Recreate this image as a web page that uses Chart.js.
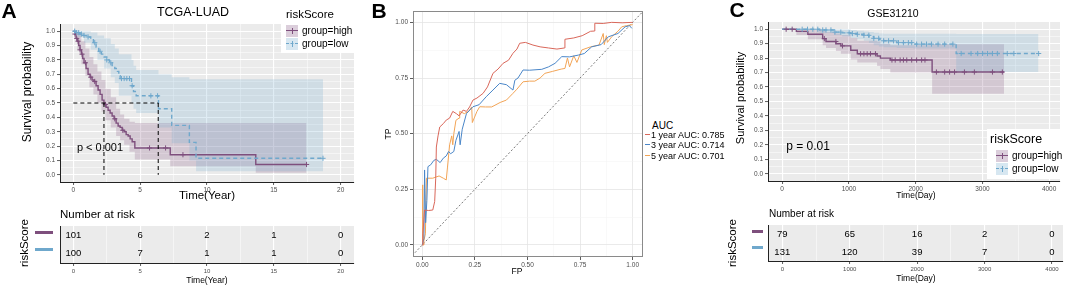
<!DOCTYPE html>
<html lang="en">
<head>
<meta charset="UTF-8">
<title>riskScore survival and ROC</title>
<script src="https://cdn.jsdelivr.net/npm/chart.js@4.4.1/dist/chart.umd.min.js"></script>
<style>
  body { margin: 0; background: #fff; }
  #fig { position: relative; width: 1065px; height: 286px; overflow: hidden;
         font-family: "Liberation Sans", Arial, Helvetica, sans-serif; color: #000; }
  canvas { position: absolute; }
  .t { position: absolute; white-space: nowrap; line-height: 1; transform: translate(-50%, -50%); }
  .l { position: absolute; white-space: nowrap; line-height: 1; transform: translate(0, -50%); }
  .rot { transform: translate(-50%, -50%) rotate(-90deg); }
  .tag { font-weight: bold; font-size: 21px; }
  .box { position: absolute; background: #fff; }
  .key { position: absolute; width: 12px; height: 12px; }
  .key .ln { position: absolute; left: 0; right: 0; top: 5px; border-top-width: 1.3px; }
  .key .vt { position: absolute; left: 5.5px; top: 3px; height: 6px; border-left-width: 1px; border-left-style: solid; }
  .sw { position: absolute; height: 3px; }
</style>
</head>
<body>
<div id="fig">
  <canvas id="kmA" width="360" height="200" style="left:0;top:0"></canvas>
  <canvas id="riskA" width="360" height="86" style="left:0;top:200px"></canvas>
  <canvas id="roc" width="290" height="286" style="left:360px;top:0"></canvas>
  <canvas id="kmC" width="340" height="200" style="left:725px;top:0"></canvas>
  <canvas id="riskC" width="340" height="86" style="left:725px;top:200px"></canvas>

  <!-- panel A text -->
  <div class="t tag" style="left:9px;top:10px">A</div>
  <div class="t" style="left:193px;top:12px;font-size:12.5px">TCGA-LUAD</div>
  <div class="t rot" style="left:27px;top:92px;font-size:12px">Survival probability</div>
  <div class="t" style="left:207px;top:196px;font-size:11.5px">Time(Year)</div>
  <div class="t" style="left:100px;top:147px;font-size:11px">p &lt; 0.001</div>
  <div class="box" style="left:281px;top:24px;width:74px;height:29px"></div>
  <div class="l" style="left:286px;top:15px;font-size:11.5px">riskScore</div>
  <div class="key" style="left:286px;top:25px;background:rgba(126,79,125,0.28)">
    <div class="ln" style="border-top-style:solid;border-top-color:#7E4F7D"></div>
    <div class="vt" style="border-left-color:#7E4F7D"></div>
  </div>
  <div class="key" style="left:286px;top:38px;background:rgba(111,168,204,0.28)">
    <div class="ln" style="border-top-style:dashed;border-top-color:#6FA8CC"></div>
    <div class="vt" style="border-left-color:#6FA8CC"></div>
  </div>
  <div class="l" style="left:302px;top:31px;font-size:10px">group=high</div>
  <div class="l" style="left:302px;top:44px;font-size:10px">group=low</div>
  <div class="l" style="left:60px;top:215px;font-size:11.5px">Number at risk</div>
  <div class="t rot" style="left:25px;top:243px;font-size:11.5px">riskScore</div>
  <div class="sw" style="left:35px;top:231px;width:18px;background:#7E4F7D"></div>
  <div class="sw" style="left:35px;top:248px;width:18px;background:#6FA8CC"></div>
  <div class="t" style="left:207px;top:280px;font-size:8.5px">Time(Year)</div>

  <!-- panel B text -->
  <div class="t tag" style="left:379px;top:10px">B</div>
  <div class="t" style="left:517px;top:271px;font-size:8.5px">FP</div>
  <div class="t rot" style="left:388px;top:134px;font-size:8.5px">TP</div>
  <div class="l" style="left:652px;top:126px;font-size:10px">AUC</div>
  <div class="sw" style="left:645px;top:134px;width:5px;height:1px;background:#D9675A"></div>
  <div class="sw" style="left:645px;top:144px;width:5px;height:1px;background:#4A86C8"></div>
  <div class="sw" style="left:645px;top:155px;width:5px;height:1px;background:#F2A456"></div>
  <div class="l" style="left:651px;top:134.5px;font-size:9px">1 year AUC: 0.785</div>
  <div class="l" style="left:651px;top:144.5px;font-size:9px">3 year AUC: 0.714</div>
  <div class="l" style="left:651px;top:155.5px;font-size:9px">5 year AUC: 0.701</div>

  <!-- panel C text -->
  <div class="t tag" style="left:737px;top:9px">C</div>
  <div class="t" style="left:893px;top:13px;font-size:10.5px">GSE31210</div>
  <div class="t rot" style="left:740px;top:98px;font-size:11px">Survival probability</div>
  <div class="t" style="left:916px;top:195px;font-size:8.5px">Time(Day)</div>
  <div class="t" style="left:808px;top:146px;font-size:12px">p = 0.01</div>
  <div class="box" style="left:987px;top:129px;width:78px;height:50px"></div>
  <div class="l" style="left:990px;top:139px;font-size:12.5px">riskScore</div>
  <div class="key" style="left:996px;top:150px;background:rgba(126,79,125,0.28)">
    <div class="ln" style="border-top-style:solid;border-top-color:#7E4F7D"></div>
    <div class="vt" style="border-left-color:#7E4F7D"></div>
  </div>
  <div class="key" style="left:996px;top:163px;background:rgba(111,168,204,0.28)">
    <div class="ln" style="border-top-style:dashed;border-top-color:#6FA8CC"></div>
    <div class="vt" style="border-left-color:#6FA8CC"></div>
  </div>
  <div class="l" style="left:1012px;top:156px;font-size:10px">group=high</div>
  <div class="l" style="left:1012px;top:169px;font-size:10px">group=low</div>
  <div class="l" style="left:769px;top:214px;font-size:10px">Number at risk</div>
  <div class="t rot" style="left:733px;top:243px;font-size:11.5px">riskScore</div>
  <div class="sw" style="left:752px;top:230px;width:11px;background:#7E4F7D"></div>
  <div class="sw" style="left:752px;top:246px;width:11px;background:#6FA8CC"></div>
  <div class="t" style="left:916px;top:278px;font-size:8.5px">Time(Day)</div>
</div>

<script>
// ---- data ----

// A: TCGA-LUAD, time in years
const yearTicks = [0, 5, 10, 15, 20];
const yearLabels = ['0', '5', '10', '15', '20'];
const survTicks = [0, 0.1, 0.2, 0.3, 0.4, 0.5, 0.6, 0.7, 0.8, 0.9, 1.0];
const survLabels = ['0.0', '0.1', '0.2', '0.3', '0.4', '0.5', '0.6', '0.7', '0.8', '0.9', '1.0'];

const highTimeA = [0, 0.1, 0.2, 0.3, 0.4, 0.5, 0.6, 0.7, 0.8, 0.95, 1.1, 1.25, 1.4, 1.55, 1.7, 1.85, 2.0, 2.15, 2.29, 2.45, 2.6, 2.75, 2.9, 3.05, 3.2, 3.35, 3.5, 3.65, 3.8, 3.95, 4.1, 4.25, 4.4, 4.6, 7.25, 13.65, 17.45];
const highSurvA = [1, 0.98, 0.95, 0.93, 0.9, 0.87, 0.84, 0.81, 0.78, 0.74, 0.7, 0.68, 0.66, 0.65, 0.62, 0.59, 0.56, 0.52, 0.49, 0.47, 0.45, 0.43, 0.41, 0.39, 0.36, 0.34, 0.33, 0.31, 0.3, 0.28, 0.27, 0.25, 0.23, 0.187, 0.14, 0.072, 0.072];
const lowTimeA = [0, 0.2, 0.45, 0.7, 1.0, 1.3, 1.5, 1.7, 1.9, 2.1, 2.3, 2.5, 2.7, 2.9, 3.1, 3.3, 3.4, 3.5, 4.35, 4.5, 4.7, 6.37, 7.36, 8.68, 9.18, 18.68];
const lowSurvA = [1, 0.99, 0.98, 0.97, 0.96, 0.94, 0.92, 0.89, 0.86, 0.84, 0.82, 0.8, 0.78, 0.76, 0.74, 0.72, 0.69, 0.67, 0.62, 0.58, 0.55, 0.46, 0.344, 0.226, 0.115, 0.115];
const highCensorA = [0.12, 0.25, 0.35, 0.5, 0.65, 0.9, 1.3, 1.6, 2.4, 3.1, 3.7, 5.7, 6.9, 8.2, 17.45];
const lowCensorA = [0.1, 0.25, 0.4, 0.6, 0.8, 1.1, 1.6, 2.0, 2.5, 2.8, 3.6, 3.8, 4.0, 4.2, 4.4, 5.8, 6.3, 18.68];

const highBandTimeA = [0, 0.3, 0.6, 0.9, 1.2, 1.5, 1.8, 2.1, 2.4, 2.8, 3.2, 3.5, 3.8, 4.2, 4.6, 7.25, 13.65, 17.45];
const highBandLowA = [1, 0.87, 0.77, 0.69, 0.61, 0.56, 0.5, 0.44, 0.38, 0.33, 0.27, 0.24, 0.21, 0.16, 0.107, 0.06, 0.014, 0.014];
const highBandUpA = [1, 0.99, 0.93, 0.88, 0.82, 0.77, 0.72, 0.66, 0.6, 0.54, 0.46, 0.42, 0.39, 0.37, 0.36, 0.36, 0.36, 0.36];
const lowBandTimeA = [0, 0.3, 0.8, 1.3, 1.8, 2.3, 2.8, 3.1, 3.4, 4.35, 4.5, 4.7, 6.37, 7.36, 8.68, 9.18, 18.68];
const lowBandLowA = [1, 0.96, 0.92, 0.87, 0.8, 0.74, 0.68, 0.64, 0.55, 0.5, 0.46, 0.43, 0.33, 0.22, 0.1, 0.025, 0.025];
const lowBandUpA = [1, 1, 1, 0.99, 0.97, 0.95, 0.91, 0.88, 0.84, 0.8, 0.76, 0.73, 0.7, 0.68, 0.665, 0.665, 0.665];

const medianLevelA = 0.5;
const medianTimesA = [2.29, 6.35];

const riskTimesA = [0, 5, 10, 15, 20];
const riskHighA = [101, 6, 2, 1, 0];
const riskLowA = [100, 7, 1, 1, 0];

// B: time-dependent ROC
const rocTicks = [0, 0.25, 0.5, 0.75, 1];
const rocLabels = ['0.00', '0.25', '0.50', '0.75', '1.00'];
const fp1 = [0, 0.003, 0.011, 0.03, 0.05, 0.059, 0.064, 0.067, 0.075, 0.083, 0.1, 0.114, 0.13, 0.145, 0.162, 0.175, 0.194, 0.21, 0.225, 0.241, 0.26, 0.289, 0.31, 0.336, 0.36, 0.384, 0.41, 0.431, 0.45, 0.463, 0.49, 0.526, 0.56, 0.6, 0.64, 0.676, 0.678, 0.72, 0.76, 0.8, 0.818, 0.82, 0.86, 0.9, 0.95, 1];
const tp1 = [0, 0.05, 0.157, 0.155, 0.157, 0.195, 0.3, 0.44, 0.49, 0.53, 0.545, 0.561, 0.57, 0.6, 0.59, 0.58, 0.606, 0.6, 0.62, 0.651, 0.66, 0.681, 0.71, 0.771, 0.79, 0.816, 0.83, 0.861, 0.88, 0.906, 0.91, 0.898, 0.89, 0.885, 0.88, 0.885, 0.924, 0.93, 0.94, 0.96, 0.961, 0.996, 0.995, 1, 0.998, 1];
const fp3 = [0, 0.008, 0.011, 0.016, 0.022, 0.027, 0.04, 0.055, 0.067, 0.085, 0.1, 0.114, 0.125, 0.135, 0.15, 0.16, 0.175, 0.18, 0.19, 0.21, 0.241, 0.27, 0.304, 0.336, 0.368, 0.4, 0.431, 0.44, 0.455, 0.479, 0.51, 0.568, 0.6, 0.631, 0.663, 0.7, 0.742, 0.77, 0.805, 0.85, 0.884, 0.93, 0.964, 0.985, 0.996];
const tp3 = [0, 0.03, 0.337, 0.1, 0.2, 0.352, 0.36, 0.38, 0.385, 0.37, 0.39, 0.4, 0.42, 0.41, 0.42, 0.47, 0.51, 0.45, 0.52, 0.59, 0.621, 0.63, 0.666, 0.696, 0.726, 0.72, 0.696, 0.74, 0.75, 0.786, 0.785, 0.789, 0.8, 0.816, 0.846, 0.845, 0.853, 0.86, 0.89, 0.9, 0.935, 0.95, 0.98, 0.985, 0.973];
const fp5 = [0, 0.002, 0.004, 0.008, 0.015, 0.02, 0.05, 0.08, 0.1, 0.114, 0.12, 0.13, 0.14, 0.145, 0.15, 0.16, 0.175, 0.178, 0.2, 0.22, 0.235, 0.238, 0.26, 0.273, 0.3, 0.33, 0.37, 0.4, 0.431, 0.45, 0.479, 0.51, 0.535, 0.56, 0.583, 0.62, 0.66, 0.678, 0.69, 0.7, 0.72, 0.735, 0.758, 0.8, 0.84, 0.86, 0.865, 0.875, 0.88, 0.9, 0.93, 0.948, 0.97, 1];
const tp5 = [0, 0.27, 0.0, 0.02, 0.05, 0.3, 0.3, 0.31, 0.3, 0.292, 0.35, 0.45, 0.49, 0.45, 0.5, 0.56, 0.57, 0.6, 0.59, 0.6, 0.62, 0.55, 0.6, 0.621, 0.62, 0.62, 0.64, 0.651, 0.681, 0.7, 0.733, 0.736, 0.736, 0.75, 0.771, 0.78, 0.79, 0.793, 0.84, 0.8, 0.85, 0.82, 0.876, 0.89, 0.898, 0.95, 0.9, 0.94, 0.91, 0.935, 0.96, 0.98, 0.985, 0.99];

// C: GSE31210, time in days
const dayTicks = [0, 1000, 2000, 3000, 4000];
const dayLabels = ['0', '1000', '2000', '3000', '4000'];

const highTimeC = [0, 213, 385, 607, 657, 806, 880, 1028, 1126, 1422, 1472, 1620, 2247, 3324];
const highSurvC = [1, 0.985, 0.965, 0.935, 0.915, 0.9, 0.885, 0.855, 0.83, 0.815, 0.8, 0.787, 0.704, 0.704];
const lowTimeC = [0, 560, 780, 900, 1028, 1120, 1225, 1300, 1373, 1450, 1521, 1718, 1966, 2607, 3840];
const lowSurvC = [1, 0.995, 0.98, 0.975, 0.97, 0.965, 0.958, 0.948, 0.937, 0.928, 0.92, 0.907, 0.897, 0.832, 0.832];
const highCensorC = [60, 150, 632, 805, 904, 1175, 1225, 1274, 1323, 1398, 1645, 1694, 1768, 1817, 1867, 1941, 2015, 2090, 2140, 2311, 2435, 2509, 2583, 2731, 2880, 3151, 3299];
const lowCensorC = [300, 380, 460, 534, 608, 657, 731, 790, 879, 1003, 1052, 1126, 1225, 1299, 1373, 1447, 1521, 1595, 1669, 1743, 1817, 1891, 1941, 2015, 2089, 2163, 2237, 2336, 2435, 2558, 2682, 2830, 2929, 3003, 3077, 3151, 3225, 3373, 3472, 3843];

const highBandTimeC = [0, 213, 385, 607, 657, 806, 880, 1028, 1126, 1422, 1472, 1620, 2247, 3324];
const highBandLowC = [1, 0.96, 0.93, 0.89, 0.87, 0.85, 0.83, 0.79, 0.77, 0.745, 0.725, 0.7, 0.554, 0.554];
const highBandUpC = [1, 1, 1, 0.99, 0.98, 0.97, 0.96, 0.94, 0.92, 0.915, 0.9, 0.89, 0.896, 0.896];
const lowBandTimeC = [0, 560, 780, 900, 1028, 1120, 1225, 1300, 1373, 1450, 1521, 1718, 1966, 2607, 3840];
const lowBandLowC = [1, 0.975, 0.96, 0.95, 0.94, 0.93, 0.92, 0.905, 0.89, 0.88, 0.875, 0.87, 0.866, 0.704, 0.704];
const lowBandUpC = [1, 1, 1, 1, 0.995, 0.99, 0.985, 0.98, 0.975, 0.97, 0.968, 0.968, 0.968, 0.967, 0.967];

const riskTimesC = [0, 1000, 2000, 3000, 4000];
const riskHighC = [79, 65, 16, 2, 0];
const riskLowC = [131, 120, 39, 7, 0];

// ---- drawing ----
const FONT = '"Liberation Sans", Arial, Helvetica, sans-serif';
const HIGH = '#7E4F7D', LOW = '#6FA8CC';
const HIGH_BAND = 'rgba(126,79,125,0.22)', LOW_BAND = 'rgba(111,168,204,0.22)';
const NONE = 'rgba(0,0,0,0)';

Chart.defaults.font.family = FONT;

function xy(xs, ys) { return xs.map((x, i) => ({ x: x, y: ys[i] })); }

function survAt(times, surv, t) {
  let s = surv[0];
  for (let i = 0; i < times.length; i++) if (times[i] <= t) s = surv[i];
  return s;
}

function minorsOf(m) {
  const out = [];
  for (let i = 0; i < m.length - 1; i++) out.push((m[i] + m[i + 1]) / 2);
  return out;
}

// panel background / frame
const panel = {
  id: 'panel',
  beforeDraw(chart, args, opts) {
    if (!opts.fill) return;
    const a = chart.chartArea, ctx = chart.ctx;
    ctx.save();
    ctx.fillStyle = opts.fill;
    ctx.fillRect(a.left, a.top, a.right - a.left, a.bottom - a.top);
    ctx.restore();
  },
  afterDraw(chart, args, opts) {
    if (!opts.stroke) return;
    const a = chart.chartArea, ctx = chart.ctx;
    ctx.save();
    ctx.strokeStyle = opts.stroke;
    ctx.lineWidth = 1;
    ctx.strokeRect(Math.round(a.left) + 0.5, Math.round(a.top) + 0.5,
      Math.round(a.right - a.left) - 1, Math.round(a.bottom - a.top) - 1);
    ctx.restore();
  }
};

// numbers at risk written at their (time, row) positions
const riskText = {
  id: 'riskText',
  afterDatasetsDraw(chart) {
    const ctx = chart.ctx, xs = chart.scales.x, ys = chart.scales.y;
    ctx.save();
    ctx.font = '9.5px ' + FONT;
    ctx.fillStyle = '#000';
    ctx.textAlign = 'center';
    ctx.textBaseline = 'middle';
    chart.data.datasets.forEach(ds => ds.data.forEach(p => {
      ctx.fillText(String(p.n), xs.getPixelForValue(p.x), ys.getPixelForValue(p.y));
    }));
    ctx.restore();
  }
};

function numAxis(o) {
  const minors = minorsOf(o.majors);
  const all = o.majors.concat(minors).filter(v => v >= o.min && v <= o.max).sort((a, b) => a - b);
  const isMajor = v => o.majors.some(m => Math.abs(m - v) < 1e-9);
  return {
    type: 'linear', min: o.min, max: o.max,
    afterBuildTicks: s => { s.ticks = all.map(v => ({ value: v })); },
    afterFit: s => { if (s.isHorizontal()) s.height = o.size; else s.width = o.size; },
    ticks: {
      autoSkip: false, maxRotation: 0, minRotation: 0, padding: o.pad,
      color: '#4D4D4D', font: { family: FONT, size: o.font },
      callback: v => {
        const i = o.majors.findIndex(m => Math.abs(m - v) < 1e-9);
        return i < 0 ? '' : o.labels[i];
      }
    },
    grid: {
      drawOnChartArea: true,
      color: c => (c.tick && isMajor(c.tick.value)) ? o.majorC : o.minorC,
      lineWidth: c => (c.tick && isMajor(c.tick.value)) ? o.majorW : o.minorW,
      tickLength: 3,
      tickColor: c => (c.tick && isMajor(c.tick.value)) ? '#333' : NONE,
      tickWidth: 0.8
    },
    border: { display: !!o.line, color: '#222', width: 1 }
  };
}

const baseOpts = {
  responsive: false,
  animation: false,
  devicePixelRatio: 1,
  events: [],
  elements: { line: { tension: 0 }, point: { radius: 0 } },
};

function kmChart(id, k) {
  const band = (t, v, fill, color, order) => ({
    data: xy(t, v), stepped: true, borderColor: NONE, borderWidth: 0, pointRadius: 0,
    fill: fill, backgroundColor: color, order: order
  });
  const datasets = [
    band(k.hbT, k.hbLo, false, NONE, 11),
    band(k.hbT, k.hbUp, '-1', HIGH_BAND, 11),
    band(k.lbT, k.lbLo, false, NONE, 10),
    band(k.lbT, k.lbUp, '-1', LOW_BAND, 10),
    { data: xy(k.hT, k.hS), stepped: true, borderColor: HIGH, borderWidth: 1.4, pointRadius: 0, fill: false, order: 5 },
    { data: xy(k.lT, k.lS), stepped: true, borderColor: LOW, borderWidth: 1.4, borderDash: [4, 3], pointRadius: 0, fill: false, order: 4 },
    { data: k.hC.map(t => ({ x: t, y: survAt(k.hT, k.hS, t) })), showLine: false, pointStyle: 'cross',
      pointRadius: 2.6, pointBorderWidth: 1, borderColor: HIGH, order: 3 },
    { data: k.lC.map(t => ({ x: t, y: survAt(k.lT, k.lS, t) })), showLine: false, pointStyle: 'cross',
      pointRadius: 2.6, pointBorderWidth: 1, borderColor: LOW, order: 2 }
  ].concat(k.extra || []);

  return new Chart(document.getElementById(id), {
    type: 'line',
    data: { datasets: datasets },
    plugins: [panel],
    options: Object.assign({}, baseOpts, {
      layout: { padding: k.padding },
      plugins: { legend: { display: false }, tooltip: { enabled: false }, panel: { fill: '#EBEBEB' } },
      scales: {
        x: numAxis({ min: k.xMin, max: k.xMax, majors: k.xTicks, labels: k.xLabels, size: k.xSize, font: 6.5, pad: 1,
                     majorC: '#fff', minorC: '#fff', majorW: 1.1, minorW: 0.5, line: true }),
        y: numAxis({ min: -0.05, max: 1.05, majors: survTicks, labels: survLabels, size: k.ySize, font: 6.5, pad: 2,
                     majorC: '#fff', minorC: '#fff', majorW: 1.1, minorW: 0.5, line: true })
      }
    })
  });
}

function riskChart(id, r) {
  const row = (times, counts, y) => times.map((t, i) => ({ x: t, y: y, n: counts[i] }));
  return new Chart(document.getElementById(id), {
    type: 'scatter',
    data: { datasets: [
      { data: row(r.times, r.high, 1.5), pointRadius: 0 },
      { data: row(r.times, r.low, 0.5), pointRadius: 0 }
    ] },
    plugins: [panel, riskText],
    options: Object.assign({}, baseOpts, {
      layout: { padding: r.padding },
      plugins: { legend: { display: false }, tooltip: { enabled: false }, panel: { fill: '#EBEBEB' } },
      scales: {
        x: numAxis({ min: r.xMin, max: r.xMax, majors: r.xTicks, labels: r.xLabels, size: r.xSize, font: 6, pad: 1.5,
                     majorC: '#fff', minorC: '#fff', majorW: 1.1, minorW: 0.5, line: true }),
        y: { type: 'linear', min: 0, max: 2,
             afterFit: s => { s.width = r.ySize; },
             ticks: { display: false }, grid: { display: false },
             border: { display: true, color: '#222', width: 1 } }
      }
    })
  });
}

// A
const dash = { borderColor: '#000', borderWidth: 1, borderDash: [4, 3], pointRadius: 0, fill: false, order: 1 };
kmChart('kmA', {
  hT: highTimeA, hS: highSurvA, lT: lowTimeA, lS: lowSurvA, hC: highCensorA, lC: lowCensorA,
  hbT: highBandTimeA, hbLo: highBandLowA, hbUp: highBandUpA,
  lbT: lowBandTimeA, lbLo: lowBandLowA, lbUp: lowBandUpA,
  xMin: -1, xMax: 21, xTicks: yearTicks, xLabels: yearLabels,
  padding: { left: 0, right: 6, top: 24, bottom: 0 }, ySize: 60, xSize: 18,
  extra: [
    Object.assign({ data: [{ x: 0, y: medianLevelA }, { x: medianTimesA[1], y: medianLevelA }] }, dash),
    Object.assign({ data: [{ x: medianTimesA[0], y: medianLevelA }, { x: medianTimesA[0], y: 0 }] }, dash),
    Object.assign({ data: [{ x: medianTimesA[1], y: medianLevelA }, { x: medianTimesA[1], y: 0 }] }, dash)
  ]
});
riskChart('riskA', {
  times: riskTimesA, high: riskHighA, low: riskLowA,
  xMin: -1, xMax: 21, xTicks: yearTicks, xLabels: yearLabels,
  padding: { left: 0, right: 6, top: 26, bottom: 0 }, ySize: 60, xSize: 23
});

// B
const rocLine = (xs, ys, color) => ({ data: xy(xs, ys), borderColor: color, borderWidth: 1, pointRadius: 0, fill: false });
new Chart(document.getElementById('roc'), {
  type: 'line',
  data: { datasets: [
    rocLine(fp1, tp1, '#D9675A'),
    rocLine(fp3, tp3, '#4A86C8'),
    rocLine(fp5, tp5, '#F2A456'),
    { data: [{ x: -0.1, y: -0.1 }, { x: 1.1, y: 1.1 }], borderColor: '#555', borderWidth: 0.8,
      borderDash: [2, 2], pointRadius: 0, fill: false, clip: 0 }
  ] },
  plugins: [panel],
  options: Object.assign({}, baseOpts, {
    layout: { padding: { left: 0, right: 7, top: 11, bottom: 0 } },
    plugins: { legend: { display: false }, tooltip: { enabled: false }, panel: { stroke: '#8A8A8A' } },
    scales: {
      x: numAxis({ min: -0.044, max: 1.049, majors: rocTicks, labels: rocLabels, size: 29, font: 6.5, pad: 1,
                   majorC: '#E4E4E4', minorC: '#F2F2F2', majorW: 0.8, minorW: 0.5, line: false }),
      y: numAxis({ min: -0.054, max: 1.051, majors: rocTicks, labels: rocLabels, size: 53, font: 6.5, pad: 2,
                   majorC: '#E4E4E4', minorC: '#F2F2F2', majorW: 0.8, minorW: 0.5, line: false })
    }
  })
});

// C
kmChart('kmC', {
  hT: highTimeC, hS: highSurvC, lT: lowTimeC, lS: lowSurvC, hC: highCensorC, lC: lowCensorC,
  hbT: highBandTimeC, hbLo: highBandLowC, hbUp: highBandUpC,
  lbT: lowBandTimeC, lbLo: lowBandLowC, lbUp: lowBandUpC,
  xMin: -212, xMax: 4163, xTicks: dayTicks, xLabels: dayLabels,
  padding: { left: 0, right: 2, top: 22, bottom: 0 }, ySize: 43, xSize: 19
});
riskChart('riskC', {
  times: riskTimesC, high: riskHighC, low: riskLowC,
  xMin: -212, xMax: 4163, xTicks: dayTicks, xLabels: dayLabels,
  padding: { left: 0, right: 2, top: 25, bottom: 0 }, ySize: 43, xSize: 25
});
</script>
</body>
</html>
